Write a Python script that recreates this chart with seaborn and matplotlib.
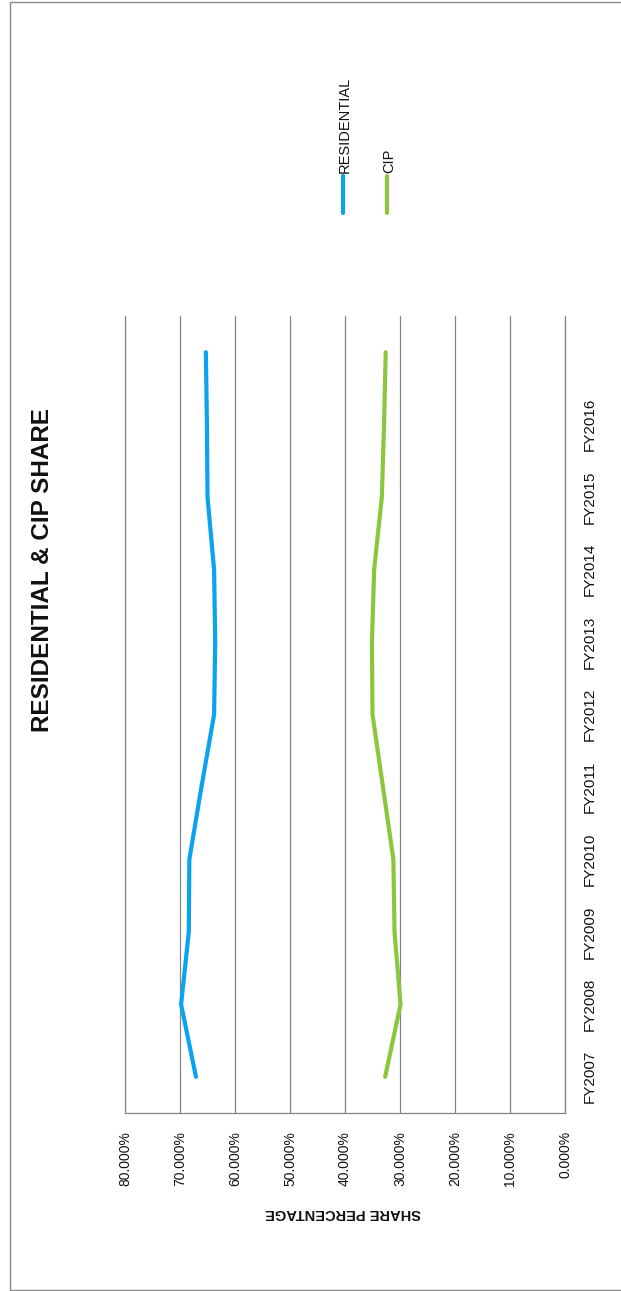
import matplotlib
matplotlib.use("Agg")
import matplotlib.pyplot as plt
from matplotlib.lines import Line2D
from matplotlib.patches import Rectangle
from matplotlib.ticker import FuncFormatter
import pandas as pd
import seaborn as sns

# ---- data -------------------------------------------------------------
fiscal_years = ["FY2007", "FY2008", "FY2009", "FY2010", "FY2011", "FY2012",
                "FY2013", "FY2014", "FY2015", "FY2016", ""]
residential_share = [0.671, 0.698, 0.684, 0.683, 0.661, 0.638,
                     0.636, 0.638, 0.650, 0.651, 0.653]
cip_share = [0.327, 0.299, 0.310, 0.312, 0.331, 0.350,
             0.351, 0.347, 0.333, 0.329, 0.326]
series_names = ["RESIDENTIAL", "CIP"]
series_colors = ["#0aa3ef", "#8cc63f"]
share_ticks = [0.0, 0.1, 0.2, 0.3, 0.4, 0.5, 0.6, 0.7, 0.8]

# ---- style ------------------------------------------------------------
sns.set_theme(style="white")
plt.rcParams["font.family"] = ["Liberation Sans", "DejaVu Sans"]
grid_gray = "#858585"

W, H = 621, 1291
fig = plt.figure(figsize=(W / 100, H / 100), dpi=100, facecolor="white")

# page is laid out in landscape and turned a quarter turn:
# share runs right-to-left along x, fiscal years run bottom-to-top along y
left, right, bottom, top = 125, 565, 1113, 316
ax = fig.add_axes([left / W, (H - bottom) / H, (right - left) / W, (bottom - top) / H])

n = len(fiscal_years)
df = pd.DataFrame({
    "pos": list(range(n)) * 2,
    "share": residential_share + cip_share,
    "series": [series_names[0]] * n + [series_names[1]] * n,
})
sns.lineplot(data=df, x="share", y="pos", hue="series", orient="y",
             palette=dict(zip(series_names, series_colors)),
             linewidth=3, legend=False, ax=ax, solid_capstyle="round")

ax.set_xlim(0.8, 0.0)
ax.set_ylim(-0.5, n - 0.5)

# value axis (now horizontal)
ax.set_xticks(share_ticks)
ax.xaxis.set_major_formatter(FuncFormatter(lambda v, _: f"{v * 100:.3f}%"))
ax.tick_params(axis="x", length=0, pad=13, labelrotation=90, labelsize=10,
               labelcolor="#111111")
ax.xaxis.grid(True, color=grid_gray, linewidth=0.9)
ax.yaxis.grid(False)
ax.set_axisbelow(True)

# category axis (now vertical, labels on the right)
ax.yaxis.tick_right()
ax.set_yticks(range(n))
ax.set_yticklabels(fiscal_years, rotation=90, va="center", ha="left")
ax.tick_params(axis="y", length=0, pad=13, labelsize=11, labelcolor="#111111")

for side in ["top"]:
    ax.spines[side].set_visible(False)
for side in ["left", "right", "bottom"]:
    ax.spines[side].set_visible(True)
    ax.spines[side].set_color(grid_gray)
    ax.spines[side].set_linewidth(0.9)

ax.set_ylabel("")
ax.set_xlabel("SHARE PERCENTAGE", rotation=180, fontsize=10.5,
              fontweight="bold", color="#111111", va="center")
ax.xaxis.set_label_coords(0.495, (bottom - 1213) / (bottom - top))

# title
fig.text(43 / W, 1 - 570 / H, "RESIDENTIAL & CIP SHARE", rotation=90,
         ha="center", va="center", fontsize=17.5, fontweight="bold",
         color="#111111")

# legend
legend_x = [343, 387]
for name, color, lx in zip(series_names, series_colors, legend_x):
    fig.add_artist(Line2D([lx / W, lx / W], [1 - 213 / H, 1 - 176 / H],
                          transform=fig.transFigure, color=color,
                          linewidth=3, solid_capstyle="round"))
    fig.text((lx + 2) / W, 1 - 173 / H, name, rotation=90, ha="center",
             va="bottom", fontsize=10.5, color="#111111")

# page border
fig.add_artist(Rectangle((10 / W, 1.5 / H), 1.2, (H - 3) / H,
                         transform=fig.transFigure, fill=False,
                         edgecolor="#8a8a8a", linewidth=1))

fig.savefig("out.png", dpi=100, facecolor="white")
